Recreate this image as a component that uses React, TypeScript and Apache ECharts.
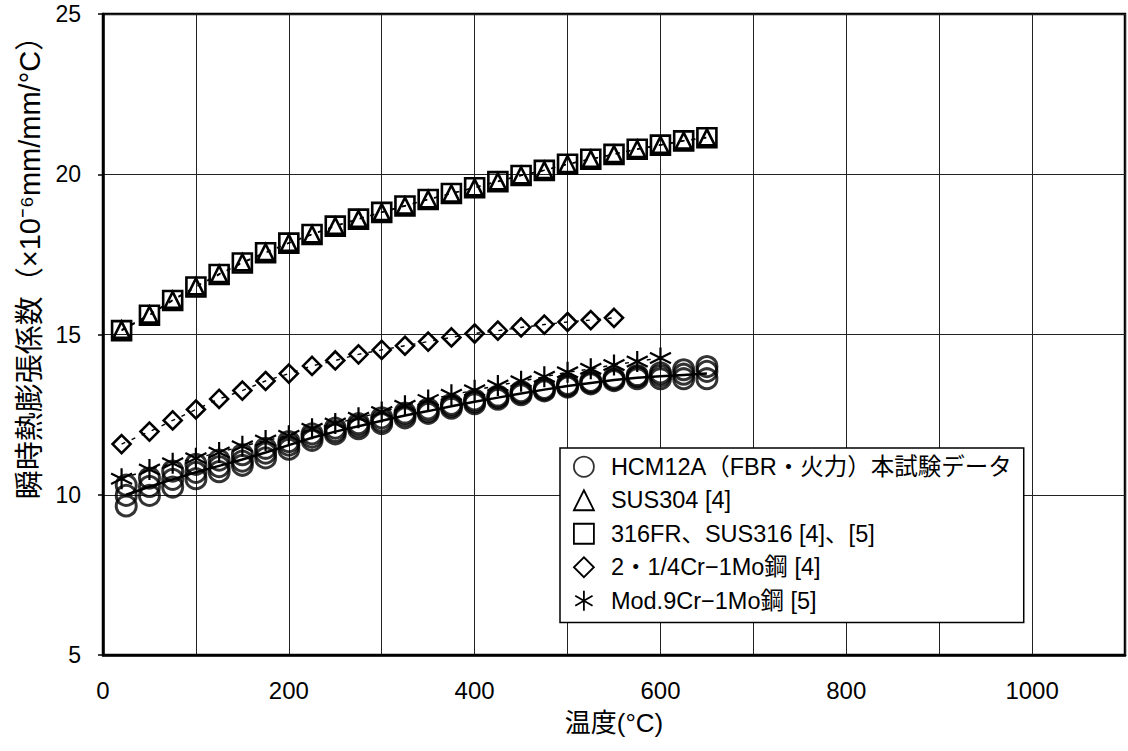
import { useEffect, useRef } from 'react';
import * as echarts from 'echarts';

// HCM12A (three specimens) temperatures and values
const hcmTemps = [25, 50, 75, 100, 125, 150, 175, 200, 225, 250, 275, 300, 325, 350, 375, 400, 425, 450, 475, 500, 525, 550, 575, 600, 625, 650];
const hcmUpper = [10.30, 10.52, 10.74, 10.95, 11.08, 11.25, 11.45, 11.66, 11.90, 12.08, 12.22, 12.40, 12.55, 12.68, 12.82, 12.96, 13.08, 13.22, 13.32, 13.44, 13.54, 13.64, 13.72, 13.80, 13.90, 14.00];
const hcmMid = [9.98, 10.26, 10.48, 10.70, 10.88, 11.05, 11.30, 11.55, 11.80, 11.98, 12.14, 12.30, 12.48, 12.60, 12.76, 12.90, 13.03, 13.17, 13.28, 13.40, 13.50, 13.60, 13.68, 13.72, 13.76, 13.85];
const hcmLower = [9.65, 9.98, 10.24, 10.50, 10.72, 10.92, 11.15, 11.42, 11.70, 11.90, 12.06, 12.22, 12.40, 12.54, 12.70, 12.84, 12.98, 13.12, 13.24, 13.36, 13.46, 13.56, 13.62, 13.62, 13.62, 13.62];
const hcmFit = [10.00, 10.25, 10.48, 10.70, 10.90, 11.10, 11.32, 11.55, 11.78, 11.97, 12.14, 12.31, 12.47, 12.61, 12.76, 12.90, 13.03, 13.16, 13.28, 13.39, 13.49, 13.58, 13.65, 13.70, 13.74, 13.78];

// SUS304 / 316FR
const susTemps = [20, 50, 75, 100, 125, 150, 175, 200, 225, 250, 275, 300, 325, 350, 375, 400, 425, 450, 475, 500, 525, 550, 575, 600, 625, 650];
const sus304 = [15.15, 15.62, 16.08, 16.50, 16.89, 17.25, 17.57, 17.86, 18.13, 18.39, 18.61, 18.82, 19.02, 19.22, 19.40, 19.59, 19.78, 19.97, 20.13, 20.32, 20.48, 20.63, 20.79, 20.92, 21.05, 21.15];
const sus316 = [15.12, 15.60, 16.06, 16.48, 16.87, 17.23, 17.55, 17.85, 18.12, 18.38, 18.60, 18.81, 19.01, 19.21, 19.40, 19.58, 19.77, 19.96, 20.12, 20.31, 20.47, 20.62, 20.78, 20.91, 21.04, 21.14];

// 2-1/4Cr-1Mo
const crMoTemps = [20, 50, 75, 100, 125, 150, 175, 200, 225, 250, 275, 300, 325, 350, 375, 400, 425, 450, 475, 500, 525, 550];
const crMo = [11.58, 11.97, 12.32, 12.66, 12.99, 13.25, 13.55, 13.78, 14.02, 14.19, 14.38, 14.52, 14.65, 14.78, 14.91, 15.03, 15.12, 15.22, 15.31, 15.39, 15.45, 15.52];

// Mod.9Cr-1Mo
const mod9Temps = [20, 50, 75, 100, 125, 150, 175, 200, 225, 250, 275, 300, 325, 350, 375, 400, 425, 450, 475, 500, 525, 550, 575, 600];
const mod9 = [10.50, 10.79, 10.98, 11.14, 11.32, 11.51, 11.69, 11.84, 12.06, 12.22, 12.40, 12.58, 12.78, 12.96, 13.12, 13.26, 13.41, 13.54, 13.68, 13.82, 13.93, 14.05, 14.16, 14.27];

const seriesNames = [
  'HCM12A（FBR・火力）本試験データ',
  'SUS304 [4]',
  '316FR、SUS316 [4]、[5]',
  '2・1/4Cr−1Mo鋼 [4]',
  'Mod.9Cr−1Mo鋼 [5]',
];

const xName = '温度(°C)';
const yName = '瞬時熱膨張係数（×10⁻⁶mm/mm/°C）';

const ASTERISK = 'path://M10,0 L10,20 M1.34,5 L18.66,15 M1.34,15 L18.66,5';

const pairs = (xs: number[], ys: number[]) => xs.map((x, i) => [x, ys[i]]);

const FONT = "'Liberation Sans', 'Noto Sans CJK JP', sans-serif";

export default function App() {
  const ref = useRef<HTMLDivElement>(null);
  useEffect(() => {
    if (!ref.current) return;
    const chart = echarts.init(ref.current, null, { renderer: 'svg' });
    const markerStyle = { color: 'rgba(0,0,0,0)', borderColor: '#000', borderWidth: 2.6 };
    const dashed = { color: '#000', width: 1.4, type: [4, 7] as any };
    const legendIconStyle = { color: 'rgba(0,0,0,0)', borderColor: '#000', borderWidth: 1.8 };
    chart.setOption({
      animation: false,
      backgroundColor: '#fff',
      textStyle: { fontFamily: FONT },
      grid: { left: 103, right: -8, top: 14, bottom: 96, show: true, borderColor: '#000', borderWidth: 2.5 },
      legend: {
        orient: 'vertical',
        left: 560,
        top: 448,
        padding: [7, 12, 10, 13],
        backgroundColor: '#fff',
        borderColor: '#000',
        borderWidth: 1.5,
        itemWidth: 20,
        itemHeight: 20,
        itemGap: 10,
        textStyle: { fontSize: 23.5, color: '#000', fontFamily: FONT, padding: [0, 0, 0, 12] },
        data: [
          { name: seriesNames[0], icon: 'circle', itemStyle: legendIconStyle },
          { name: seriesNames[1], icon: 'triangle', itemStyle: legendIconStyle },
          { name: seriesNames[2], icon: 'rect', itemStyle: legendIconStyle },
          { name: seriesNames[3], icon: 'diamond', itemStyle: legendIconStyle },
          { name: seriesNames[4], icon: ASTERISK, itemStyle: legendIconStyle },
        ],
      },
      xAxis: {
        type: 'value',
        min: 0,
        max: 1100,
        interval: 100,
        name: xName,
        nameLocation: 'middle',
        nameGap: 55,
        nameTextStyle: { fontSize: 26, color: '#000', fontFamily: FONT },
        axisLine: { show: true, lineStyle: { color: '#000', width: 2.5 } },
        axisTick: { show: false },
        axisLabel: {
          fontSize: 24,
          color: '#000',
          margin: 23,
          fontFamily: FONT,
          formatter: (v: number) => (v % 200 === 0 ? String(v) : ''),
        },
        splitLine: { show: true, lineStyle: { color: '#222', width: 1 } },
      },
      yAxis: {
        type: 'value',
        min: 5,
        max: 25,
        interval: 5,
        name: yName,
        nameLocation: 'middle',
        nameRotate: 90,
        nameGap: 57,
        nameTextStyle: { fontSize: 29, color: '#000', fontFamily: FONT, padding: [0, 0, 0, 148] },
        axisLine: { show: true, lineStyle: { color: '#000', width: 2.5 } },
        axisTick: { show: true, length: 5, lineStyle: { color: '#000', width: 1.5 } },
        axisLabel: { fontSize: 23, color: '#000', margin: 22, fontFamily: FONT },
        splitLine: { show: true, lineStyle: { color: '#222', width: 1 } },
      },
      series: [
        {
          name: 'fit',
          type: 'line',
          data: pairs(hcmTemps, hcmFit),
          symbol: 'none',
          lineStyle: { color: '#000', width: 2.5 },
          z: 2,
        },
        {
          name: seriesNames[1],
          type: 'line',
          data: pairs(susTemps, sus304),
          symbol: 'triangle',
          symbolSize: 16,
          itemStyle: markerStyle,
          lineStyle: dashed,
          z: 3,
        },
        {
          name: seriesNames[2],
          type: 'line',
          data: pairs(susTemps, sus316),
          symbol: 'rect',
          symbolSize: 19,
          itemStyle: markerStyle,
          lineStyle: dashed,
          z: 3,
        },
        {
          name: seriesNames[3],
          type: 'line',
          data: pairs(crMoTemps, crMo),
          symbol: 'diamond',
          symbolSize: [18, 18],
          itemStyle: markerStyle,
          lineStyle: dashed,
          z: 3,
        },
        {
          name: seriesNames[4],
          type: 'line',
          data: pairs(mod9Temps, mod9),
          symbol: ASTERISK,
          symbolSize: 21,
          itemStyle: { color: 'rgba(0,0,0,0)', borderColor: '#000', borderWidth: 2.2 },
          lineStyle: dashed,
          z: 3,
        },
        {
          name: seriesNames[0],
          type: 'scatter',
          data: [...pairs(hcmTemps, hcmUpper), ...pairs(hcmTemps, hcmMid), ...pairs(hcmTemps, hcmLower)],
          symbol: 'circle',
          symbolSize: 20,
          itemStyle: { color: 'rgba(0,0,0,0)', borderColor: '#000', borderWidth: 3 },
          z: 4,
        },
      ],
    });
    return () => chart.dispose();
  }, []);
  return (
    <div
      ref={ref}
      style={{ position: 'fixed', left: 0, top: 0, width: 1128, height: 751, background: '#fff' }}
    />
  );
}
